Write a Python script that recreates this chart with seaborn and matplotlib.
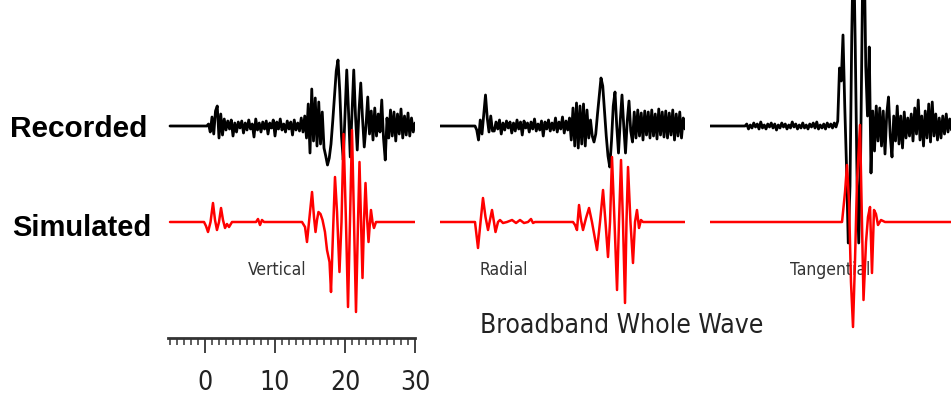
import numpy as np
import matplotlib
matplotlib.use("Agg")
import matplotlib.pyplot as plt
import seaborn as sns
from matplotlib import font_manager as fm
from matplotlib.ticker import FixedLocator

# ---------------------------------------------------------------- data
# Recorded traces: amplitude samples every 0.25 s starting at -5 s
REC_T0 = -5.0
REC_DT = 0.25

vertical_rec = [0] * 22 + [
    2, -6, 9, -8, 15, 20, -12, 12, -9, 7,
    -4, 5, -3, 6, -10, 3, -6, 4, -2, 5, -7, 3, -4, 6, -3, 2, -11, 7, -4, 3,
    -6, 4, -3, 5, -8, 3, -2, 6, -10, 4, -3, 7, -4, 2, -6, 5, -3, 4, -9, 6,
    -4, 3, -5, 8, -6,
    10, -12, 22, -27, 37, -15, 28, -20, 24, -18, 14, -22, -30, -39, -32, -18,
    5, 30, 55, 66, 35, -10, -34, 10, 56, 15, -31, 12, 56, 10, -24, 15, 43, 8,
    -21, 0, 29, -8, 15, -14, 18, -10, 12, -6, 26, -12, -34, 8, -12, 16, -10,
    14, -15, 12, -8, 17, -12, 10, -9, 13, -10, 8, -6, 3]

radial_rec = [0] * 21 + [
    -4, -14, 6, -8, 12, 31, 8, -6, 10, -5,
    -5, 4, -3, 6, -8, 3, -4, 5, -2, 4, -7, 3, -5, 6, -3, 4, -9, 5, -2, 3,
    -6, 4, -3, 7, -5, 2, -4, 5, -10, 4, -3, 6, -5, 3, -4, 8, -6, 4, -3, 9,
    -7, 5, -4,
    8, -14, 18, -20, 23, -22, 20, -18, 22, -20, 16, -12, 6, -10, -16, -8, 12,
    30, 48, 40, 15, -10, -30, -41, -15, 20, 34, 0, -27, 5, 31, 0, -27, 5, 25,
    -5, -16, 14, -12, 16, -10, 13, -14, 15, -9, 14, -12, 16, -10, 12, -13, 17,
    -9, 14, -11, 15, -12, 13, -9, 16, -14, 12, -10, 14, -12, 8, -3]

tangential_rec = [0] * 21 + [
    2, -3, 1, -2, 3, -1, 2, -3, 4, -2, 1, -3, 2, -1, 3, -2, 2, -4, 1, -2,
    3, -1, 2, -3, 1, -2, 4, -1, 2, -3, 1, -2, 3, -2, 1, -3, 2, -1, 3, -2,
    4, -3, 1, -2, 2, -3, 3, -1, 2, -2, 3, -1,
    5, 58, 45, 91, 20, -40, -117, -60, 90, 190, 80, -50, -117, -40, 120, 190,
    60, 10, 79, -47, 15, -25, 20, -15, 18, -20, 15, -28, 12, 29, -10, -31, 10,
    -15, 20, -18, 10, -22, 14, -12, 8, -10, 12, -15, 18, -8, 26, -14, 10, -20,
    15, -12, 22, -16, 24, -10, 12, -14, 8, -12, 10, -8, 12, -6, 7, -4, 3, 0]

# Simulated traces: (time in s, amplitude)
vertical_sim_t = [-5, -0.14, 0.14, 0.43, 0.79, 1.14, 1.43, 1.71, 2.0, 2.29,
                  2.57, 2.86, 3.14, 3.43, 3.86, 7.29, 7.57, 7.86, 8.14, 8.43,
                  13.86, 14.29, 14.57, 14.93, 15.29, 15.57, 15.79, 16.0, 16.21,
                  16.5, 16.79, 17.14, 17.43, 17.79, 18.0, 18.29, 18.57, 18.86,
                  19.21, 19.5, 19.79, 20.14, 20.43, 20.71, 21.0, 21.29, 21.57,
                  21.86, 22.07, 22.29, 22.5, 22.71, 22.93, 23.14, 23.36, 23.57,
                  23.71, 23.93, 24.14, 24.43, 30]
vertical_sim_a = [0, 0, -4, -10, 0, 19, 2, -8, 0, 14, 2, -6, -2, -5, 0,
                  0, 3, -3, 2, 0, 0, -5, -20, 5, 30, 5, -10, 2, 10, 8,
                  2, -10, -28, -40, -70, -10, 45, 10, -50, 0, 88, 0, -85, 0, 92,
                  0, -90, 0, 60, 0, -56, 0, 39, 5, -20, 0, 12, 0, -6, 0, 0]

radial_sim_t = [-5, 0, 0.43, 0.79, 1.14, 1.5, 1.86, 2.14, 2.43, 2.71, 2.93,
                3.29, 3.57, 4.0, 4.57, 5.29, 5.86, 6.43, 7.0, 7.57, 8.0, 8.29,
                8.57, 14.0, 14.29, 14.57, 14.86, 15.14, 15.43, 15.86, 16.29,
                16.71, 17.43, 17.86, 18.29, 18.64, 19.0, 19.29, 19.57, 19.93,
                20.29, 20.57, 20.86, 21.14, 21.43, 21.64, 21.86, 22.21, 22.57,
                22.86, 23.14, 23.43, 23.71, 24.0, 30]
radial_sim_a = [0, 0, -26, 0, 24, 5, -8, 2, 12, 0, -10, 0, 2, -1, 0, 2, -1,
                2, -1, 0, 3, -1, 0, 0, -3, -8, 17, 2, -8, 4, 14, 0, -28, 0, 32,
                0, -35, 0, 65, 0, -68, 0, 62, 0, -81, 0, 55, 0, -41, 0, 12, -6,
                2, 0, 0]

tangential_sim_t = [-5, 13.86, 14.29, 14.57, 14.86, 15.14, 15.43, 15.71, 16.0,
                    16.43, 16.71, 16.93, 17.29, 17.57, 17.86, 18.14, 18.43,
                    18.71, 19.0, 19.43, 20.0, 30]
tangential_sim_a = [0, 0, 30, 57, 20, -60, -105, -40, 40, 97, 0, -78, -20, 5,
                    15, -51, 12, 8, -3, 2, 0, 0]

components = ["Vertical", "Radial", "Tangential"]
row_labels = ["Recorded", "Simulated"]
scale_ticks = [0, 10, 20, 30]
title = "Broadband Whole Wave"

# ---------------------------------------------------------------- layout
SIM_OFFSET = -96          # simulated trace drawn below the recorded one
W, H = 951, 396

sns.set_theme(style="white")
plt.rcParams["font.family"] = ["Liberation Sans", "DejaVu Sans"]


def find_condensed():
    """Pick an installed narrow/condensed regular sans face, if any."""
    for f in fm.fontManager.ttflist:
        name = f.name.lower()
        narrow = ("narrow" in name or "condensed" in name
                  or f.stretch in ("condensed", "semi-condensed"))
        if narrow and f.style == "normal" and f.weight in (400, "normal", "regular"):
            return fm.FontProperties(fname=f.fname)
    return None


COND = find_condensed()


def narrow_font(size):
    if COND is not None:
        fp = COND.copy()
        fp.set_size(size)
    else:
        fp = fm.FontProperties(family=["Liberation Sans", "DejaVu Sans"],
                               size=size * 0.82)
    return fp


fig = plt.figure(figsize=(W / 100, H / 100), dpi=100)


def px_axes(left, top, width, height):
    return fig.add_axes([left / W, 1 - (top + height) / H, width / W, height / H])


ax_v = px_axes(168, 0, 247, 338)
ax_r = px_axes(440, 0, 245, 338)
ax_t = px_axes(710, 0, 245, 338)
ax_v.set_xlim(-5.286, 30)
for ax in (ax_r, ax_t):
    ax.set_xlim(-5, 30)

panels = [
    (ax_v, vertical_rec, vertical_sim_t, vertical_sim_a, components[0], 6.1),
    (ax_r, radial_rec, radial_sim_t, radial_sim_a, components[1], 0.7),
    (ax_t, tangential_rec, tangential_sim_t, tangential_sim_a, components[2], 6.4),
]

for ax, rec, st, sa, name, lab_t in panels:
    ax.patch.set_visible(False)
    ax.set_ylim(-212, 126)
    t_rec = REC_T0 + REC_DT * np.arange(len(rec))
    sns.lineplot(x=t_rec, y=np.asarray(rec, float), ax=ax, color="black",
                 lw=2.0, estimator=None, sort=False, zorder=2)
    sns.lineplot(x=np.asarray(st, float), y=np.asarray(sa, float) + SIM_OFFSET,
                 ax=ax, color="#ff0000", lw=1.8, estimator=None, sort=False,
                 zorder=3)
    ax.text(lab_t, -144, name, ha="left", va="center",
            fontproperties=narrow_font(12.5), color="#333333", zorder=1)
    ax.set_xlabel("")
    ax.set_ylabel("")
    ax.set_yticks([])
    for s in ax.spines.values():
        s.set_visible(False)

for ax in (ax_r, ax_t):
    ax.set_xticks([])

# time scale bar under the vertical component
ax_v.spines["bottom"].set_visible(True)
ax_v.spines["bottom"].set_linewidth(2.0)
ax_v.spines["bottom"].set_color("#333333")
ax_v.set_xticks(scale_ticks)
ax_v.set_xticklabels([str(v) for v in scale_ticks])
ax_v.xaxis.set_minor_locator(FixedLocator(list(range(-5, 31))))
ax_v.tick_params(axis="x", which="major", direction="out", length=11,
                 width=1.3, pad=12, colors="#333333",
                 labelcolor="#222222", bottom=True)
ax_v.tick_params(axis="x", which="minor", direction="out", length=5,
                 width=1.1, colors="#333333", bottom=True)
for lab in ax_v.get_xticklabels():
    lab.set_fontproperties(narrow_font(19))

# row labels and title
fig.text(10 / W, 1 - 137 / H, row_labels[0], ha="left", va="baseline",
         fontsize=21.5, fontweight="bold", color="black")
fig.text(12 / W, 1 - 236 / H, row_labels[1], ha="left", va="baseline",
         fontsize=21, fontweight="bold", color="black")
fig.text(480 / W, 1 - 333 / H, title, ha="left", va="baseline",
         fontproperties=narrow_font(19), color="#222222")

fig.savefig("out.png", dpi=100)
